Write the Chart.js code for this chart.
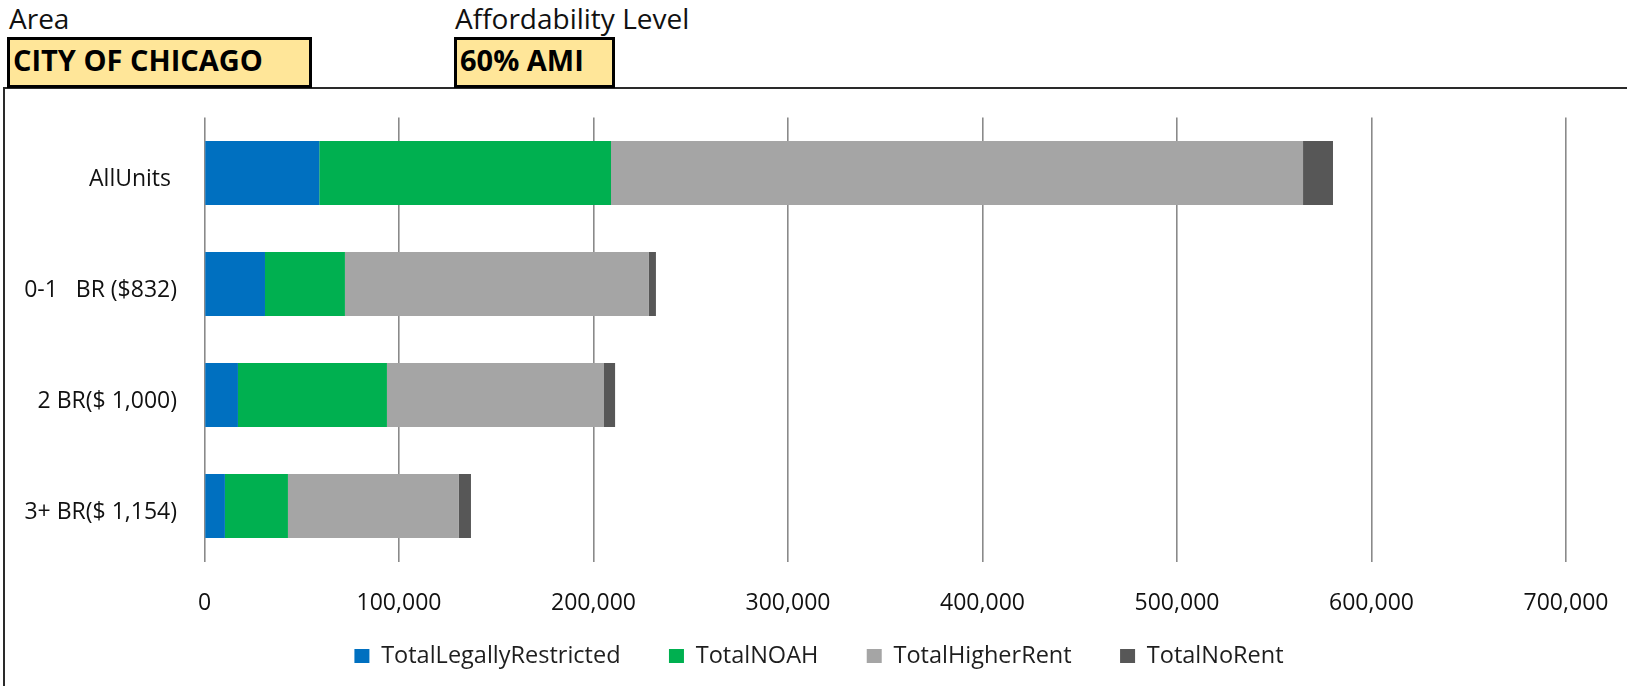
<!DOCTYPE html>
<html>
<head>
<meta charset="utf-8">
<script src="https://cdn.jsdelivr.net/npm/chart.js@4.4.1/dist/chart.umd.min.js"></script>
<style>
  html, body { margin: 0; padding: 0; background: #fff; }
  body { width: 1627px; height: 686px; position: relative; overflow: hidden; font-family: "Open Sans", sans-serif; }
  .lbl { position: absolute; font-size: 28px; line-height: normal; color: #111; white-space: nowrap; }
  .sel { position: absolute; box-sizing: border-box; height: 51px; top: 37px; border: 3px solid #000; background: #FFE699; }
  .sel span { position: absolute; left: 3px; top: 0px; font-size: 29px; font-weight: 700; line-height: normal; color: #000; white-space: nowrap; }
  #frame { position: absolute; left: 3px; top: 87px; right: -10px; bottom: -10px; border-top: 2px solid #2a2a2a; border-left: 2px solid #2a2a2a; }
  #wrap { position: absolute; left: 0; top: 0; width: 1627px; height: 686px; }
</style>
</head>
<body>
<div id="frame"></div>
<div class="lbl" style="left:9px; top:-1px;">Area</div>
<div class="lbl" style="left:455px; top:-1px;">Affordability Level</div>
<div class="sel" style="left:7px; width:305px;"><span>CITY OF CHICAGO</span></div>
<div class="sel" style="left:454px; width:161px;"><span>60% AMI</span></div>
<div id="wrap"><canvas id="c"></canvas></div>
<script>
// Unit-size groups (the label carries the rent limit at 60% AMI)
const categories = ['AllUnits ', '0-1   BR ($832)', '2 BR($ 1,000)', '3+ BR($ 1,154)'];

// Rental units by affordability status
const totalLegallyRestricted = [59000, 31100, 17200, 10500];
const totalNOAH = [150000, 41100, 76600, 32400];
const totalHigherRent = [355800, 156300, 111600, 87900];
const totalNoRent = [15400, 3600, 5700, 6200];

// Value axis ticks
const axisTicks = [0, 100000, 200000, 300000, 400000, 500000, 600000, 700000];

const FONT = '"Open Sans", sans-serif';
const LEGEND_FONT = 23.5;
const LEGEND_PAD = 24;
// legend text centre sits at legend.top + padding + itemHeight / 2
const LEGEND_TOP = 656 - LEGEND_PAD - LEGEND_FONT / 2;
const PLOT_BOTTOM = 561.5;

const series = [
  { label: 'TotalLegallyRestricted', data: totalLegallyRestricted, color: '#0070C0' },
  { label: 'TotalNOAH', data: totalNOAH, color: '#00B050' },
  { label: 'TotalHigherRent', data: totalHigherRent, color: '#A5A5A5' },
  { label: 'TotalNoRent', data: totalNoRent, color: '#575757' }
];

new Chart(document.getElementById('c'), {
  type: 'bar',
  data: {
    labels: categories,
    datasets: series.map(s => ({
      label: s.label,
      data: s.data,
      backgroundColor: s.color,
      borderWidth: 0,
      categoryPercentage: 1,
      barPercentage: 0.577
    }))
  },
  options: {
    indexAxis: 'y',
    responsive: true,
    maintainAspectRatio: false,
    animation: false,
    layout: { padding: { top: 117.5, left: 11, right: 0, bottom: 686 - LEGEND_TOP - (LEGEND_FONT + LEGEND_PAD + 10) } },
    plugins: {
      tooltip: { enabled: false },
      legend: {
        position: 'bottom',
        labels: {
          boxWidth: 15,
          boxHeight: 14,
          padding: LEGEND_PAD,
          color: '#1e1e1e',
          font: { family: FONT, size: LEGEND_FONT },
          // wider spacing between entries than between rows
          generateLabels: chart => {
            const items = Chart.defaults.plugins.legend.labels.generateLabels(chart);
            items.forEach((it, i) => { if (i < items.length - 1) it.text = it.text + '    '; });
            return items;
          }
        }
      }
    },
    scales: {
      x: {
        stacked: true,
        min: axisTicks[0],
        max: axisTicks[axisTicks.length - 1],
        afterBuildTicks: scale => { scale.ticks = axisTicks.map(v => ({ value: v })); },
        afterFit: scale => { scale.height = LEGEND_TOP - PLOT_BOTTOM; scale.paddingRight = 61; },
        grid: { color: '#8a8a8a', lineWidth: 1.6, drawTicks: false },
        border: { display: false },
        ticks: {
          padding: 27.7,
          color: '#111',
          font: { family: FONT, size: 23 },
          callback: v => Number(v).toLocaleString('en-US')
        }
      },
      y: {
        stacked: true,
        afterFit: scale => { scale.width = 204.5 - 11; },
        grid: { display: false, drawTicks: false },
        border: { display: false },
        ticks: {
          padding: 27.5,
          labelOffset: 6,
          color: '#111',
          font: { family: FONT, size: 23 }
        }
      }
    }
  }
});
</script>
</body>
</html>
